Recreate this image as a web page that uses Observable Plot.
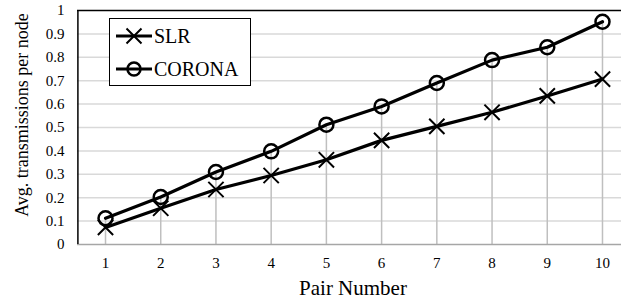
<!DOCTYPE html>
<html>
<head>
<meta charset="utf-8">
<script src="https://cdn.jsdelivr.net/npm/d3@7"></script>
<script src="https://cdn.jsdelivr.net/npm/@observablehq/plot@0.6"></script>
<style>
  html, body { margin: 0; padding: 0; background: #fff; }
  .serif { font-family: "Times New Roman", Times, "Liberation Serif", Tinos, "DejaVu Serif", "Noto Serif", serif; }
  #wrap { position: relative; width: 621px; height: 301px; }
  #wrap > svg { position: absolute; left: 0; top: 0; }
  .ytitle { position: absolute; left: 22px; top: 115px; transform: translate(-50%, -50%) rotate(-90deg); white-space: nowrap; font-size: 18px; color: #000; }
  .xtitle { position: absolute; left: 353px; top: 288px; transform: translate(-50%, -50%); white-space: nowrap; font-size: 21px; color: #000; }
  .legend { position: absolute; left: 109px; top: 18px; width: 142px; height: 68px; border: 1px solid #000; background: #fff; box-sizing: border-box; }
  .legend .row { position: absolute; left: 5px; height: 26px; display: flex; align-items: center; font-size: 20px; color: #000; line-height: 26px; }
  .legend .row svg { display: block; margin-right: 1px; }
</style>
</head>
<body class="serif">
<div id="wrap" class="serif"></div>
<script>
const pairs = [1, 2, 3, 4, 5, 6, 7, 8, 9, 10];
const slr = [0.073, 0.155, 0.235, 0.295, 0.362, 0.445, 0.505, 0.565, 0.635, 0.707];
const corona = [0.112, 0.203, 0.31, 0.398, 0.512, 0.59, 0.69, 0.788, 0.843, 0.952];
const yTicks = [0, 0.1, 0.2, 0.3, 0.4, 0.5, 0.6, 0.7, 0.8, 0.9, 1];
const yTickLabels = ["0", "0.1", "0.2", "0.3", "0.4", "0.5", "0.6", "0.7", "0.8", "0.9", "1"];
const seriesNames = ["SLR", "CORONA"];
const xTitle = "Pair Number";
const yTitle = "Avg. transmissions per node";

const FONT = '"Times New Roman", Times, "Liberation Serif", Tinos, "DejaVu Serif", "Noto Serif", serif';

const slrData = pairs.map((p, i) => ({pair: p, value: slr[i]}));
const coronaData = pairs.map((p, i) => ({pair: p, value: corona[i]}));

const chart = Plot.plot({
  width: 621,
  height: 301,
  marginLeft: 77,
  marginRight: 0,
  marginTop: 10,
  marginBottom: 57,
  style: {fontFamily: FONT, fontSize: "15px", color: "#000", background: "transparent"},
  x: {domain: [0.5, 10.5], range: [77.4, 629.6]},
  y: {domain: [0, 1], range: [244, 10]},
  marks: [
    Plot.ruleY(yTicks.filter(t => t > 0 && t < 1), {stroke: "#d9d9d9", strokeWidth: 1.5}),
    Plot.ruleX(coronaData, {x: "pair", y1: 0, y2: "value", stroke: "#bfbfbf", strokeWidth: 1.5}),
    Plot.ruleY([0], {stroke: "#a6a6a6", strokeWidth: 1.5}),
    Plot.ruleY([1], {stroke: "#000", strokeWidth: 1.5}),
    Plot.ruleX([0.5], {stroke: "#000", strokeWidth: 1.5}),
    Plot.axisY({ticks: yTicks, tickSize: 0, tickPadding: 13, tickFormat: (d, i) => yTickLabels[i], label: null, fontSize: 15}),
    Plot.axisX({ticks: pairs, tickSize: 0, tickPadding: 13, tickFormat: d => String(d), label: null, fontSize: 15}),
    Plot.line(slrData, {x: "pair", y: "value", stroke: "#000", strokeWidth: 3.2}),
    Plot.line(coronaData, {x: "pair", y: "value", stroke: "#000", strokeWidth: 3.2}),
    Plot.dot(slrData, {x: "pair", y: "value", symbol: "times", r: 7, stroke: "#000", strokeWidth: 2}),
    Plot.dot(coronaData, {x: "pair", y: "value", symbol: "circle", r: 7, stroke: "#000", fill: "none", strokeWidth: 2.5})
  ]
});
chart.querySelectorAll("text").forEach(t => t.setAttribute("font-family", FONT));

const wrap = document.getElementById("wrap");
wrap.appendChild(chart);

const yt = document.createElement("div");
yt.className = "ytitle";
yt.textContent = yTitle;
wrap.appendChild(yt);

const xt = document.createElement("div");
xt.className = "xtitle";
xt.textContent = xTitle;
wrap.appendChild(xt);

const legend = document.createElement("div");
legend.className = "legend";
const symbols = ["times", "circle"];
seriesNames.forEach((name, i) => {
  const row = document.createElement("div");
  row.className = "row";
  row.style.top = (i === 0 ? 4 : 37) + "px";
  const sym = symbols[i] === "times"
    ? '<path d="M-7.5,-7.5L7.5,7.5M-7.5,7.5L7.5,-7.5" stroke="#000" stroke-width="2" fill="none"/>'
    : '<circle r="6.5" stroke="#000" stroke-width="2.5" fill="none"/>';
  row.innerHTML = `<svg width="38" height="26" viewBox="-19 -13 38 26"><line x1="-18" x2="18" stroke="#000" stroke-width="3.2"/>${sym}</svg><span>${name}</span>`;
  legend.appendChild(row);
});
wrap.appendChild(legend);
</script>
</body>
</html>
